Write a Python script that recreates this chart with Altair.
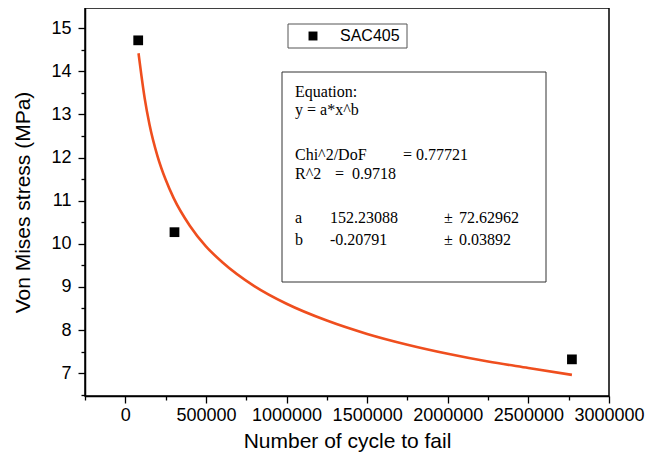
import altair as alt
import pandas as pd

# ---- data ----
obs_cycles = [80000, 305000, 2770000]
obs_stress = [14.72, 10.27, 7.32]
series_name = "SAC405"

fit_cycles = [82000, 100000, 120000, 150000, 200000, 250000, 300000, 400000,
              500000, 600000, 800000, 1000000, 1250000, 1500000, 1750000,
              2000000, 2250000, 2500000, 2770000]
fit_stress = [14.42, 13.90, 13.38, 12.77, 12.03, 11.49, 11.06, 10.42,
              9.94, 9.58, 9.02, 8.61, 8.22, 7.91, 7.66,
              7.45, 7.27, 7.12, 6.96]

x_major = [0, 500000, 1000000, 1500000, 2000000, 2500000, 3000000]
x_minor = [-250000, 250000, 750000, 1250000, 1750000, 2250000, 2750000]
y_major = [7, 8, 9, 10, 11, 12, 13, 14, 15]
y_minor = [6.5, 7.5, 8.5, 9.5, 10.5, 11.5, 12.5, 13.5, 14.5, 15.5]

eq_lines = ["Equation:", "y = a*x^b", "Chi^2/DoF", "= 0.77721", "R^2", "=", "0.9718",
            "a", "152.23088", "±", "72.62962", "b", "-0.20791", "±", "0.03892"]

x_title = "Number of cycle to fail"
y_title = "Von Mises stress (MPa)"

# ---- layout / style ----
W, H = 524, 388
X_DOMAIN = [-250000, 3000000]
Y_DOMAIN = [6.47, 15.47]
CURVE_COLOR = "#EF4E1E"
SANS = "Liberation Sans"
SERIF = "Liberation Serif"

# positions of the annotation texts (pixels, relative to the plot area)
eq_pos = [(210, 89), (210, 107), (210, 152), (318, 152), (210, 171), (250, 171), (267, 171),
          (210, 215), (245, 215), (359, 215), (374, 215), (210, 237), (245, 237), (359, 237), (374, 237)]

obs = pd.DataFrame({"x": obs_cycles, "y": obs_stress})
fit = pd.DataFrame({"x": fit_cycles, "y": fit_stress})
one = pd.DataFrame({"k": [0]})

xscale = alt.Scale(domain=X_DOMAIN, nice=False, zero=False)
yscale = alt.Scale(domain=Y_DOMAIN, nice=False, zero=False)

x_axis = alt.Axis(values=x_major, format="d", title=x_title, tickSize=7, labelPadding=3,
                  labelFlush=False, labelOverlap=False, labelBound=False, titlePadding=6,
                  grid=False)
y_axis = alt.Axis(values=y_major, format="d", title=y_title, tickSize=7, labelPadding=7,
                  labelOverlap=False, titlePadding=17, grid=False)

line = alt.Chart(fit).mark_line(color=CURVE_COLOR, strokeWidth=2.6, interpolate="monotone").encode(
    x=alt.X("x:Q", scale=xscale, axis=x_axis),
    y=alt.Y("y:Q", scale=yscale, axis=y_axis),
)
points = alt.Chart(obs).mark_point(shape="square", filled=True, color="black", size=95, opacity=1).encode(
    x=alt.X("x:Q", scale=xscale, axis=x_axis),
    y=alt.Y("y:Q", scale=yscale, axis=y_axis),
)
main = alt.layer(line, points)

minor = alt.Chart(obs).mark_point(opacity=0).encode(
    x=alt.X("x:Q", scale=xscale,
            axis=alt.Axis(values=x_minor, labels=False, tickSize=4, domain=False, title="",
                          grid=False, orient="bottom")),
    y=alt.Y("y:Q", scale=yscale,
            axis=alt.Axis(values=y_minor, labels=False, tickSize=4, domain=False, title="",
                          grid=False, orient="left")),
)

layers = [alt.layer(main, minor).resolve_scale(x="independent", y="independent")]

# legend box
layers.append(alt.Chart(one).mark_rect(fill="white", stroke="#555555", strokeWidth=1).encode(
    x=alt.value(203), x2=alt.value(322), y=alt.value(16), y2=alt.value(40)))
layers.append(alt.Chart(one).mark_point(shape="square", filled=True, color="black", size=80, opacity=1).encode(
    x=alt.value(228), y=alt.value(28)))
layers.append(alt.Chart(one).mark_text(text=series_name, font=SANS, fontSize=16, align="left",
                                       baseline="middle", color="black").encode(
    x=alt.value(255), y=alt.value(28)))

# equation box
layers.append(alt.Chart(one).mark_rect(fill="white", stroke="#333333", strokeWidth=1).encode(
    x=alt.value(197), x2=alt.value(461), y=alt.value(64), y2=alt.value(274)))
for txt, (px, py) in zip(eq_lines, eq_pos):
    layers.append(alt.Chart(one).mark_text(text=txt, font=SERIF, fontSize=16, align="left",
                                           baseline="alphabetic", color="black").encode(
        x=alt.value(px), y=alt.value(py)))

chart = alt.layer(*layers).properties(
    width=W, height=H,
    autosize=alt.AutoSizeParams(type="none"),
    padding={"left": 77, "top": 0, "right": 45, "bottom": 60},
    background="white",
).configure_view(stroke="black", strokeWidth=1.5).configure_axis(
    labelFont=SANS, titleFont=SANS, labelFontSize=18, titleFontSize=21,
    labelColor="black", titleColor="black", tickColor="black", domainColor="black",
    tickWidth=1.3, domainWidth=1.5, titleFontWeight="normal",
)

chart.save("out.html", embed_options={"renderer": "svg", "actions": False})
